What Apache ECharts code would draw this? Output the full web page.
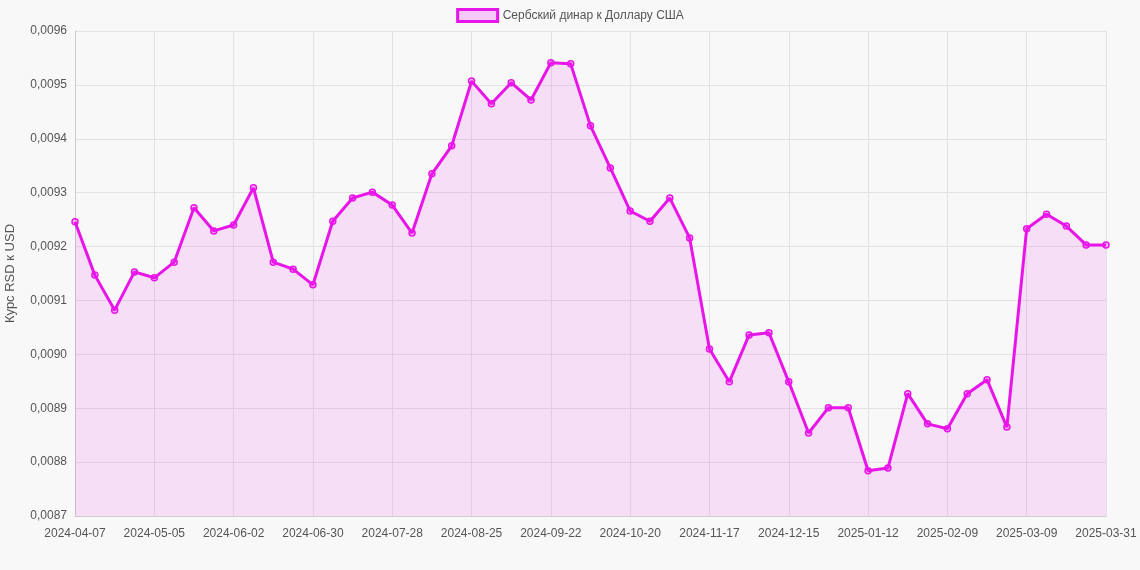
<!doctype html>
<html>
<head>
<meta charset="utf-8">
<title>RSD/USD</title>
<script src="https://cdn.jsdelivr.net/npm/echarts@6/dist/echarts.min.js"></script>
<style>html,body{margin:0;background:#f8f8f8;}#main{width:1140px;height:570px;}</style>
</head>
<body>
<div id="main"></div>
<script>
var dates = [];
(function () {
	var d = new Date(Date.UTC(2024, 3, 7));
	for (var i = 0; i < 52; i++) {
		dates.push(d.toISOString().slice(0, 10));
		d.setUTCDate(d.getUTCDate() + 7);
	}
	dates[51] = '2025-03-30';
	dates.push('2025-03-31');
})();
// значения в единицах 1e-4
var rates = [92.46, 91.47, 90.82, 91.53, 91.42, 91.71, 92.72, 92.29, 92.40, 93.09,
	91.71, 91.58, 91.29, 92.47, 92.90, 93.01, 92.77, 92.25, 93.35, 93.87,
	95.07, 94.65, 95.04, 94.72, 95.41, 95.39, 94.24, 93.46, 92.66, 92.47,
	92.90, 92.16, 90.10, 89.49, 90.36, 90.40, 89.49, 88.54, 89.01, 89.01,
	87.84, 87.89, 89.27, 88.71, 88.62, 89.27, 89.53, 88.65, 92.33, 92.60,
	92.38, 92.03, 92.03];
var values = rates.map(function (v) { return +(v / 10000).toFixed(6); });

function showLabel(i) { return i % 4 === 0 || i === dates.length - 1; }

var myChart = echarts.init(document.getElementById('main'));
var option = {
	backgroundColor: '#f8f8f8',
	textStyle: { fontFamily: 'Arial, Liberation Sans, sans-serif' },
	legend: {
		top: 3,
		itemWidth: 40, itemHeight: 12,
		textStyle: { color: '#555', fontSize: 12 },
		data: [{ name: 'Сербский динар к Доллару США', icon: 'rect',
			itemStyle: { color: 'rgba(238,17,238,0.2)', borderColor: '#e815e8', borderWidth: 3 } }]
	},
	grid: { left: 75, right: 34, top: 31, bottom: 54, containLabel: false, outerBoundsMode: 'none' },
	xAxis: {
		type: 'category', boundaryGap: false, data: dates,
		axisLine: { lineStyle: { color: '#ccc' } },
		axisTick: { show: false },
		axisLabel: { color: '#555', fontSize: 12, interval: showLabel, margin: 12, showMaxLabel: true },
		splitLine: { show: true, interval: showLabel, lineStyle: { color: '#e2e2e2' } }
	},
	yAxis: {
		type: 'value', min: 0.0087, max: 0.0096, interval: 0.0001,
		name: 'Курс RSD к USD', nameLocation: 'middle', nameGap: 58,
		nameTextStyle: { color: '#555', fontSize: 13 },
		axisLine: { show: true, lineStyle: { color: '#ccc' } },
		axisLabel: { color: '#555', fontSize: 12, formatter: function (v) { return v.toFixed(4).replace('.', ','); } },
		splitLine: { lineStyle: { color: '#e2e2e2' } }
	},
	series: [{
		name: 'Сербский динар к Доллару США',
		type: 'line', data: values,
		symbol: 'circle', symbolSize: 6, showAllSymbol: true,
		itemStyle: { color: 'rgba(238,17,238,0.25)', borderColor: '#e815e8', borderWidth: 1.5 },
		lineStyle: { color: '#e815e8', width: 3 },
		areaStyle: { color: 'rgba(238,17,238,0.15)' }
	}]
};
myChart.setOption(option);
</script>
</body>
</html>
